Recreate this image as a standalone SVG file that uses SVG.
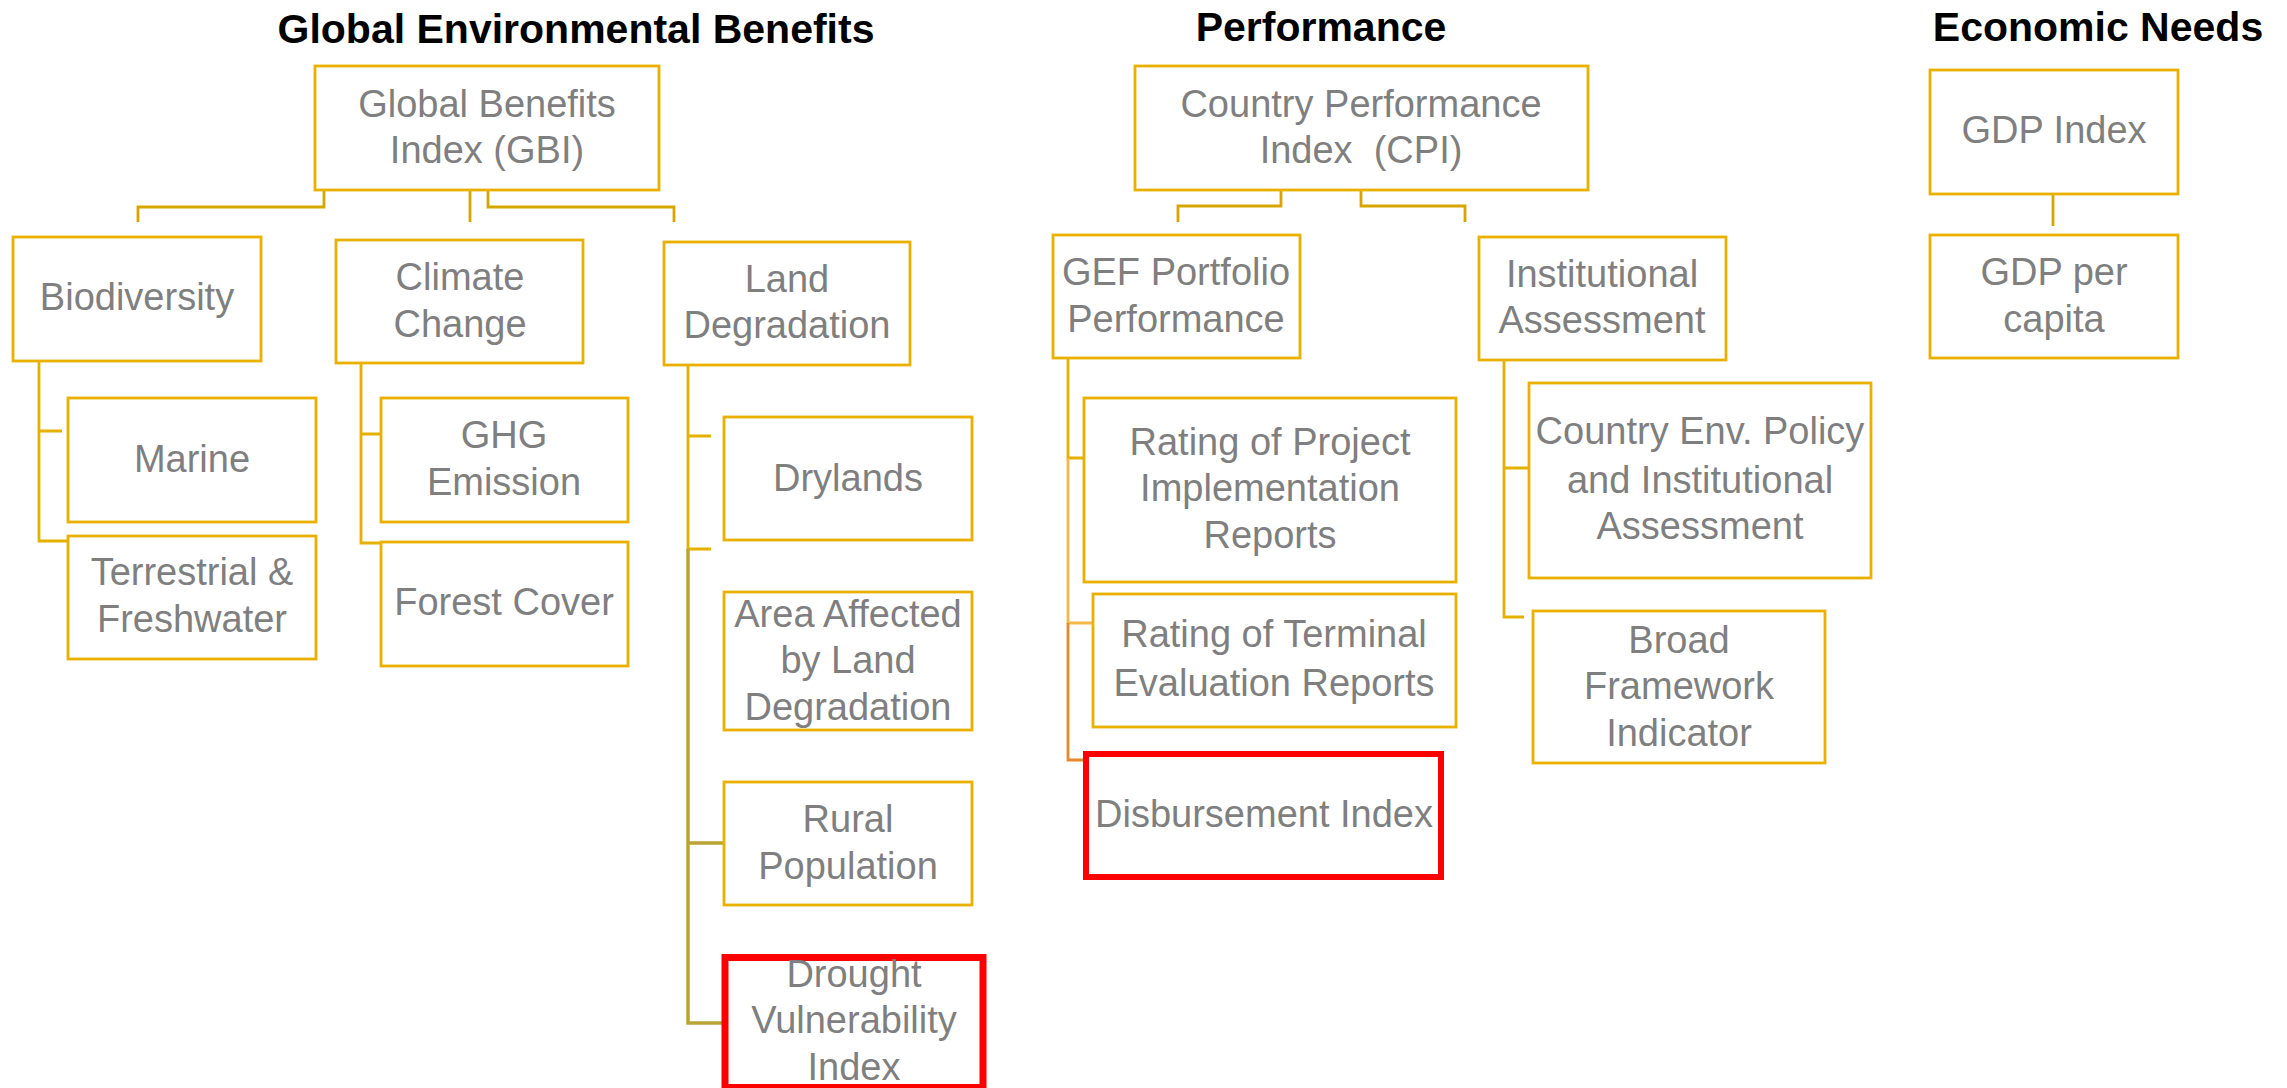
<svg xmlns="http://www.w3.org/2000/svg" width="2287" height="1088" viewBox="0 0 2287 1088">
<style>
.title{font-family:"Liberation Sans",Arial,sans-serif;font-weight:bold;font-size:41px;fill:#000;text-anchor:middle}
.box{fill:#fff;stroke:#E9B000;stroke-width:2.8}
.red{fill:#fff;stroke:#FF0000;stroke-width:7}
.t{font-family:"Liberation Sans",Arial,sans-serif;font-size:38px;fill:#7F7F7F;text-anchor:middle}
.c{fill:none;stroke:#D6A600;stroke-width:2.8}
.cy{fill:none;stroke:#E6B000;stroke-width:2.8}
.co{fill:none;stroke:#B9A334;stroke-width:3.5}
.cl{fill:none;stroke:#F4B849;stroke-width:2.8}
.cr{fill:none;stroke:#E8882C;stroke-width:2.8}
</style>
<rect width="2287" height="1088" fill="#fff"/>
<g id="titles">
<text class="title" x="576" y="43">Global Environmental Benefits</text>
<text class="title" x="1321" y="41">Performance</text>
<text class="title" x="2098" y="41">Economic Needs</text>
</g>
<g id="connectors">
<path class="c" d="M324 190V207H138V222M470 190V222M488 190V207H674V222"/>
<path class="cy" d="M39 361V541H68M39 431H62"/>
<path class="cy" d="M361 363V543H381M361 434H381"/>
<path class="cy" d="M688 365V549H711M688 436H711"/>
<path class="co" d="M688 549V1023H722M688 843H724"/>
<path class="c" d="M1281 190V206H1178V222M1361 190V206H1465V222"/>
<path class="cy" d="M1068 358V458H1084"/>
<path class="cl" d="M1068 458V623H1093"/>
<path class="cr" d="M1068 623V760H1083"/>
<path class="cy" d="M1504 360V617H1524M1504 468H1529"/>
<path class="c" d="M2053 194V226"/>
</g>
<g id="gbi"><rect class="box" x="315" y="66" width="344" height="124"/><text class="t" x="487" y="117">Global Benefits</text><text class="t" x="487" y="163">Index (GBI)</text></g>
<g id="biodiversity"><rect class="box" x="13" y="237" width="248" height="124"/><text class="t" x="137" y="310">Biodiversity</text></g>
<g id="climate"><rect class="box" x="336" y="240" width="247" height="123"/><text class="t" x="460" y="290">Climate</text><text class="t" x="460" y="337">Change</text></g>
<g id="land"><rect class="box" x="664" y="242" width="246" height="123"/><text class="t" x="787" y="292">Land</text><text class="t" x="787" y="338">Degradation</text></g>
<g id="marine"><rect class="box" x="68" y="398" width="248" height="124"/><text class="t" x="192" y="472">Marine</text></g>
<g id="terrestrial"><rect class="box" x="68" y="536" width="248" height="123"/><text class="t" x="192" y="585">Terrestrial &amp;</text><text class="t" x="192" y="632">Freshwater</text></g>
<g id="ghg"><rect class="box" x="381" y="398" width="247" height="124"/><text class="t" x="504" y="448">GHG</text><text class="t" x="504" y="495">Emission</text></g>
<g id="forest"><rect class="box" x="381" y="542" width="247" height="124"/><text class="t" x="504" y="615">Forest Cover</text></g>
<g id="drylands"><rect class="box" x="724" y="417" width="248" height="123"/><text class="t" x="848" y="491">Drylands</text></g>
<g id="area"><rect class="box" x="724" y="592" width="248" height="138"/><text class="t" x="848" y="627">Area Affected</text><text class="t" x="848" y="673">by Land</text><text class="t" x="848" y="720">Degradation</text></g>
<g id="rural"><rect class="box" x="724" y="782" width="248" height="123"/><text class="t" x="848" y="832">Rural</text><text class="t" x="848" y="879">Population</text></g>
<g id="drought"><rect class="red" x="725" y="957.5" width="258" height="130"/><text class="t" x="854" y="987">Drought</text><text class="t" x="854" y="1033">Vulnerability</text><text class="t" x="854" y="1080">Index</text></g>
<g id="cpi"><rect class="box" x="1135" y="66" width="453" height="124"/><text class="t" x="1361" y="117">Country Performance</text><text class="t" x="1361" y="163" xml:space="preserve">Index  (CPI)</text></g>
<g id="gef"><rect class="box" x="1053" y="235" width="247" height="123"/><text class="t" x="1176" y="285">GEF Portfolio</text><text class="t" x="1176" y="332">Performance</text></g>
<g id="institutional"><rect class="box" x="1479" y="237" width="247" height="123"/><text class="t" x="1602" y="287">Institutional</text><text class="t" x="1602" y="333">Assessment</text></g>
<g id="rating-project"><rect class="box" x="1084" y="398" width="372" height="184"/><text class="t" x="1270" y="455">Rating of Project</text><text class="t" x="1270" y="501">Implementation</text><text class="t" x="1270" y="548">Reports</text></g>
<g id="rating-terminal"><rect class="box" x="1093" y="594" width="363" height="133"/><text class="t" x="1274" y="647">Rating of Terminal</text><text class="t" x="1274" y="696">Evaluation Reports</text></g>
<g id="disbursement"><rect class="red" x="1086" y="754" width="355" height="123" style="stroke-width:6"/><text class="t" x="1264" y="827">Disbursement Index</text></g>
<g id="cepia"><rect class="box" x="1529" y="383" width="342" height="195"/><text class="t" x="1700" y="444">Country Env. Policy</text><text class="t" x="1700" y="493">and Institutional</text><text class="t" x="1700" y="539">Assessment</text></g>
<g id="bfi"><rect class="box" x="1533" y="611" width="292" height="152"/><text class="t" x="1679" y="653">Broad</text><text class="t" x="1679" y="699">Framework</text><text class="t" x="1679" y="746">Indicator</text></g>
<g id="gdp-index"><rect class="box" x="1930" y="70" width="248" height="124"/><text class="t" x="2054" y="143">GDP Index</text></g>
<g id="gdp-capita"><rect class="box" x="1930" y="235" width="248" height="123"/><text class="t" x="2054" y="285">GDP per</text><text class="t" x="2054" y="332">capita</text></g>
</svg>
